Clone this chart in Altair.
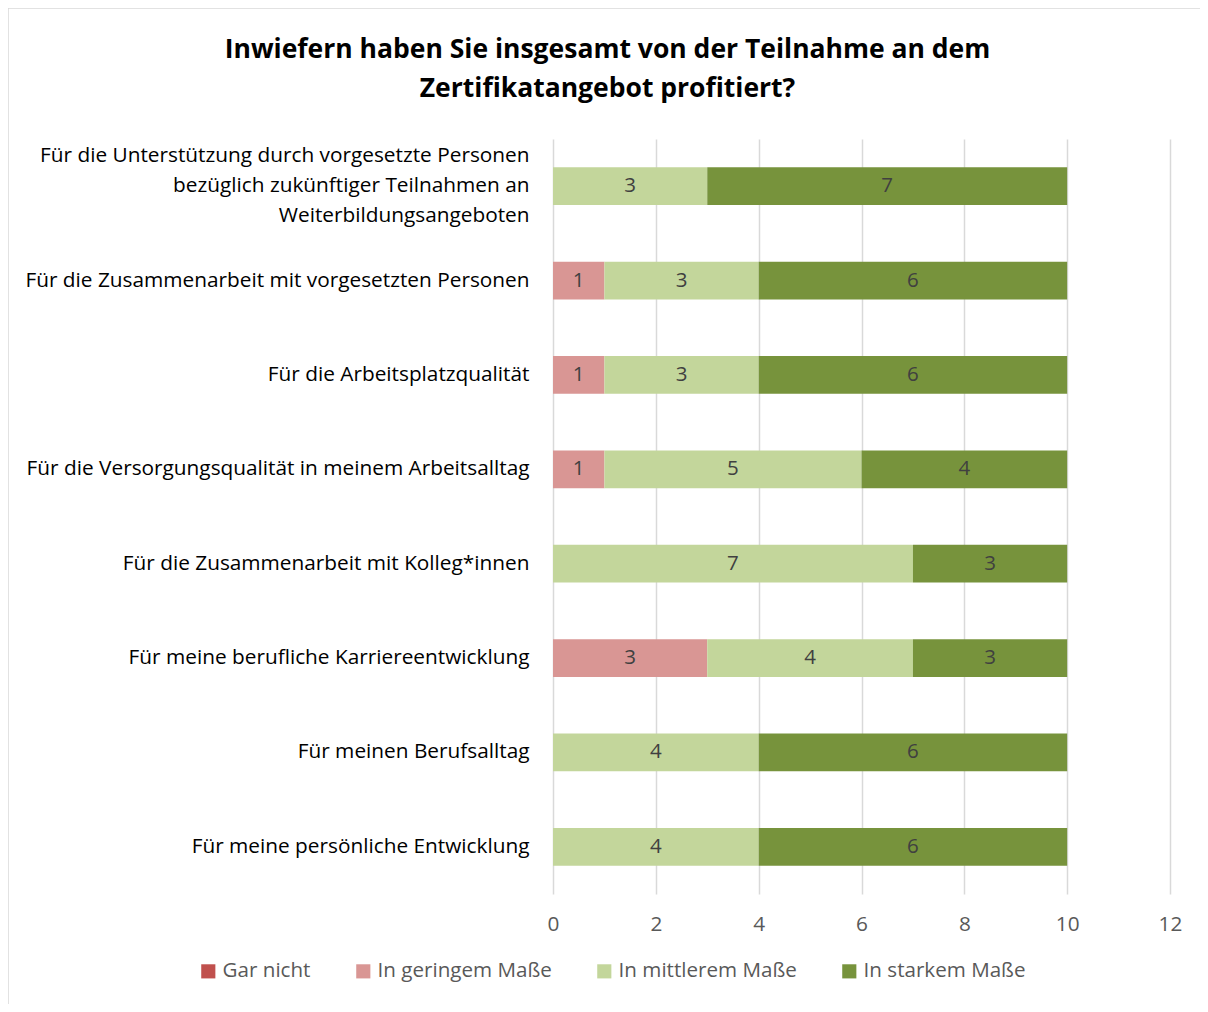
import altair as alt
import pandas as pd

categories = [
    "Für die Unterstützung durch vorgesetzte Personen|bezüglich zukünftiger Teilnahmen an|Weiterbildungsangeboten",
    "Für die Zusammenarbeit mit vorgesetzten Personen",
    "Für die Arbeitsplatzqualität",
    "Für die Versorgungsqualität in meinem Arbeitsalltag",
    "Für die Zusammenarbeit mit Kolleg*innen",
    "Für meine berufliche Karriereentwicklung",
    "Für meinen Berufsalltag",
    "Für meine persönliche Entwicklung",
]
series = ["Gar nicht", "In geringem Maße", "In mittlerem Maße", "In starkem Maße"]
gar_nicht = [0, 0, 0, 0, 0, 0, 0, 0]
geringem = [0, 1, 1, 1, 0, 3, 0, 0]
mittlerem = [3, 3, 3, 5, 7, 4, 4, 4]
starkem = [7, 6, 6, 4, 3, 3, 6, 6]
colors = ["#C0504D", "#D99694", "#C3D69B", "#77933C"]

rows = []
for i, c in enumerate(categories):
    for j, (s, vals) in enumerate(zip(series, [gar_nicht, geringem, mittlerem, starkem])):
        rows.append({"cat": c, "series": s, "order": j, "value": vals[i]})
df = pd.DataFrame(rows)

FONT = "Open Sans"
FS = 20.8

base = alt.Chart(df).transform_stack(
    stack="value", groupby=["cat"], as_=["x0", "x1"], sort=[alt.SortField("order")]
).transform_filter("datum.value > 0").transform_calculate(mid="(datum.x0 + datum.x1) / 2")

y_enc = alt.Y(
    "cat:N",
    sort=categories,
    title=None,
    scale=alt.Scale(paddingInner=0.6, paddingOuter=0.3),
    axis=alt.Axis(
        labelExpr="split(datum.label, '|')",
        labelFontSize=FS,
        labelColor="#000000",
        labelFont=FONT,
        labelLineHeight=30,
        labelPadding=24,
        labelOffset={"condition": {"test": "indexof(datum.value, '|') >= 0", "value": -30}, "value": 0},
        ticks=False,
        domain=False,
        grid=False,
        labelLimit=700,
    ),
)

bars = base.mark_bar().encode(
    x=alt.X(
        "x0:Q",
        title=None,
        scale=alt.Scale(domain=[0, 12], nice=False),
        axis=alt.Axis(
            values=[0, 2, 4, 6, 8, 10, 12],
            grid=True,
            gridColor="#D9D9D9",
            gridWidth=1.5,
            domain=False,
            ticks=False,
            labelFlush=False,
            labelFontSize=FS,
            labelColor="#595959",
            labelFont=FONT,
            labelPadding=20,
        ),
    ),
    x2="x1:Q",
    y=y_enc,
    color=alt.Color(
        "series:N",
        scale=alt.Scale(domain=series, range=colors),
        sort=series,
        legend=alt.Legend(
            title=None,
            orient="none",
            legendX=-355,
            legendY=822,
            direction="horizontal",
            symbolType="square",
            symbolSize=200,
            symbolStrokeWidth=0,
            labelFontSize=20.6,
            labelColor="#595959",
            labelFont=FONT,
            labelLimit=400,
            columnPadding=42,
            labelOffset=4,
        ),
    ),
)

texts = base.mark_text(fontSize=20.5, color="#404040", font=FONT).encode(
    x=alt.X("mid:Q"),
    y=alt.Y("cat:N", sort=categories),
    text="value:Q",
)

border = alt.Chart(pd.DataFrame({"a": [0]})).mark_rect(
    fill="transparent", stroke="#D9D9D9", strokeWidth=1.5, clip=False
).encode(
    x=alt.value(-545), x2=alt.value(700), y=alt.value(-131), y2=alt.value(880)
)

chart = alt.layer(border, bars, texts).properties(
    width=617,
    height=755,
    background="white",
    autosize=alt.AutoSizeParams(type="none"),
    padding={"left": 545, "top": 131, "right": 30, "bottom": 110},
    title=alt.Title(
        text=["Inwiefern haben Sie insgesamt von der Teilnahme an dem", "Zertifikatangebot profitiert?"],
        fontSize=26.5,
        font=FONT,
        fontWeight="bold",
        color="#000000",
        anchor="middle",
        frame="group",
        dx=-254,
        offset=-95,
        lineHeight=39,
    ),
).configure_view(strokeWidth=0, stroke="transparent")

chart.save("out.html", embed_options={"renderer": "svg", "actions": False})
